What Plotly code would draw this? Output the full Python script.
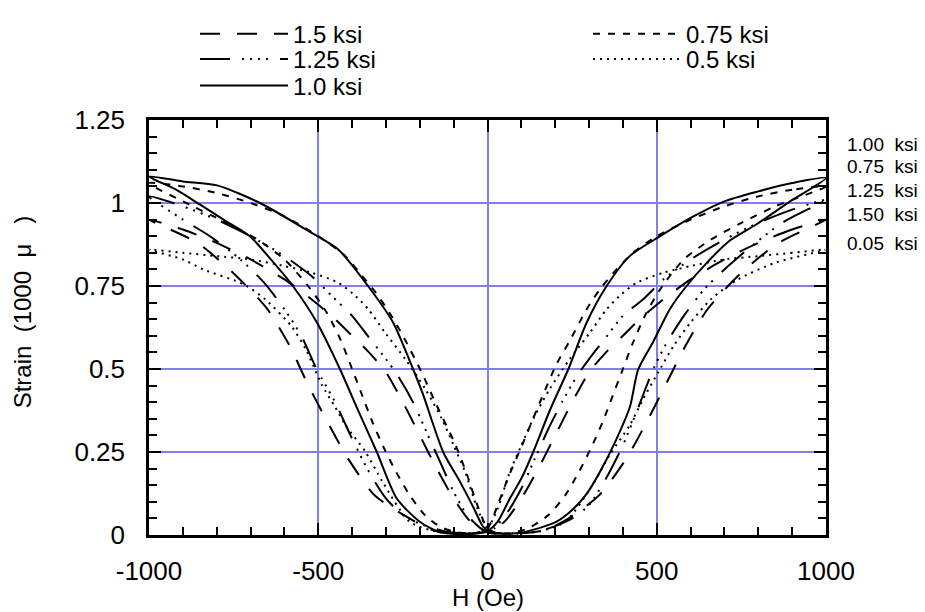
import plotly.graph_objects as go

# ---------------- data ----------------
# each loop: right descending branch (1000 -> 0), left outer (-> -1000),
# left inner (-1000 -> 0), right outer (-> 1000)
h_100 = [1000, 900, 800, 700, 600, 510, 420, 352, 293, 239, 184, 135, 100, 66, 30, 0,
         -40, -90, -140, -200, -268, -327, -380, -436, -504, -575, -640, -702, -780, -849, -920, -1000,
         -900, -799, -672, -533, -441, -353, -279, -220, -191, -131, -81, -40, -13, 10, 45,
         90, 150, 204, 250, 290, 332, 381, 421, 445, 490, 539, 588, 647, 716, 795, 894, 1000]
s_100 = [1.075, 1.06, 1.035, 1.005, 0.955, 0.90, 0.84, 0.75, 0.64, 0.50, 0.375, 0.25, 0.17, 0.11, 0.04, 0.012,
         0.004, 0.003, 0.008, 0.04, 0.11, 0.25, 0.37, 0.50, 0.64, 0.75, 0.83, 0.90, 0.95, 0.995, 1.04, 1.08,
         1.065, 1.053, 1.0, 0.918, 0.86, 0.75, 0.64, 0.50, 0.425, 0.25, 0.16, 0.08, 0.025, 0.008, 0.004,
         0.006, 0.02, 0.04, 0.075, 0.12, 0.19, 0.289, 0.387, 0.498, 0.583, 0.681, 0.75, 0.819, 0.887, 0.936, 1.005, 1.075]

h_075 = [1000, 900, 800, 700, 600, 500, 430, 381, 332, 293, 243, 204, 155, 106, 60, 30, 0,
         -40, -90, -140, -185, -230, -270, -305, -340, -370, -400, -435, -475, -530, -600, -680, -770, -870, -1000,
         -900, -800, -700, -600, -500, -420, -370, -330, -290, -250, -197, -150, -94, -60, -30, 0, 30,
         70, 120, 180, 230, 270, 305, 340, 370, 400, 430, 465, 510, 580, 660, 750, 850, 1000]
s_075 = [1.05, 1.04, 1.02, 0.99, 0.95, 0.90, 0.85, 0.80, 0.74, 0.68, 0.585, 0.515, 0.40, 0.28, 0.17, 0.09, 0.02,
         0.005, 0.008, 0.025, 0.06, 0.12, 0.19, 0.26, 0.34, 0.42, 0.50, 0.59, 0.67, 0.75, 0.83, 0.89, 0.94, 0.99, 1.06,
         1.05, 1.03, 1.0, 0.96, 0.90, 0.84, 0.78, 0.73, 0.67, 0.60, 0.495, 0.39, 0.27, 0.18, 0.09, 0.02, 0.005,
         0.006, 0.02, 0.06, 0.12, 0.19, 0.26, 0.34, 0.42, 0.50, 0.58, 0.66, 0.74, 0.83, 0.89, 0.94, 0.99, 1.05]

h_125 = [1000, 900, 800, 700, 600, 520, 460, 400, 350, 300, 265, 220, 180, 140, 100, 60, 20, 0,
         -40, -120, -190, -250, -300, -350, -400, -450, -505, -550, -600, -660, -730, -820, -900, -1000,
         -900, -800, -700, -600, -520, -460, -400, -350, -300, -265, -220, -180, -140, -100, -60, -20, 10,
         100, 180, 250, 300, 350, 400, 440, 490, 530, 580, 640, 700, 780, 870, 1000]
s_125 = [1.01, 0.98, 0.94, 0.89, 0.83, 0.77, 0.71, 0.66, 0.595, 0.53, 0.48, 0.40, 0.32, 0.23, 0.14, 0.07, 0.02, 0.012,
         0.005, 0.01, 0.03, 0.06, 0.11, 0.19, 0.29, 0.40, 0.50, 0.60, 0.68, 0.76, 0.83, 0.90, 0.95, 1.02,
         0.99, 0.95, 0.90, 0.84, 0.78, 0.72, 0.66, 0.595, 0.53, 0.48, 0.40, 0.31, 0.22, 0.13, 0.06, 0.02, 0.005,
         0.005, 0.02, 0.05, 0.09, 0.17, 0.27, 0.37, 0.50, 0.58, 0.66, 0.74, 0.80, 0.87, 0.94, 1.01]

h_150 = [1000, 900, 800, 700, 600, 520, 450, 400, 350, 300, 250, 200, 150, 100, 50, 0,
         -40, -80, -163, -237, -332, -412, -473, -532, -584, -653, -749, -857, -1000,
         -900, -800, -700, -600, -520, -450, -400, -350, -300, -250, -200, -150, -100, -50, 0, 40,
         100, 170, 240, 330, 410, 470, 530, 585, 650, 750, 860, 1000]
s_150 = [0.95, 0.92, 0.88, 0.83, 0.77, 0.71, 0.65, 0.60, 0.55, 0.49, 0.40, 0.30, 0.20, 0.11, 0.04, 0.01,
         0.005, 0.005, 0.015, 0.054, 0.118, 0.23, 0.341, 0.456, 0.569, 0.684, 0.787, 0.88, 0.95,
         0.92, 0.88, 0.83, 0.77, 0.71, 0.65, 0.60, 0.55, 0.49, 0.40, 0.30, 0.20, 0.11, 0.04, 0.01, 0.005,
         0.005, 0.015, 0.05, 0.12, 0.23, 0.34, 0.46, 0.57, 0.68, 0.79, 0.88, 0.95]

h_050 = [1000, 900, 800, 700, 600, 520, 441, 390, 352, 303, 243, 184, 135, 100, 66, 30, 0,
         -40, -100, -150, -230, -310, -360, -419, -450, -488, -515, -537, -580, -657, -720, -840, -900, -1000,
         -900, -800, -700, -600, -520, -441, -390, -352, -303, -243, -184, -135, -100, -66, -30, 0, 30,
         60, 150, 230, 310, 360, 420, 460, 510, 550, 600, 660, 740, 850, 1000]
s_050 = [0.86, 0.85, 0.84, 0.83, 0.81, 0.79, 0.76, 0.72, 0.68, 0.61, 0.53, 0.44, 0.35, 0.27, 0.19, 0.08, 0.02,
         0.005, 0.006, 0.01, 0.04, 0.16, 0.25, 0.33, 0.385, 0.45, 0.51, 0.56, 0.63, 0.71, 0.755, 0.80, 0.83, 0.86,
         0.85, 0.84, 0.83, 0.81, 0.79, 0.76, 0.72, 0.68, 0.61, 0.53, 0.44, 0.35, 0.27, 0.19, 0.08, 0.02, 0.005,
         0.005, 0.01, 0.04, 0.15, 0.24, 0.33, 0.41, 0.50, 0.57, 0.64, 0.71, 0.77, 0.82, 0.86]

x_tickvals = [-1000, -500, 0, 500, 1000]
x_ticktext = ["-1000", "-500", "0", "500", "1000"]
y_tickvals = [0, 0.25, 0.5, 0.75, 1.0, 1.25]
y_ticktext = ["0", "0.25", "0.5", "0.75", "1", "1.25"]

end_labels = ["1.00\u00a0 ksi", "0.75\u00a0 ksi", "1.25\u00a0 ksi", "1.50\u00a0 ksi", "0.05\u00a0 ksi"]
end_label_px = [135, 158, 182, 207, 236]

# ---------------- figure ----------------
FONT = "Liberation Sans, Arial, sans-serif"
W, H = 925, 612
L, R, T, B = 149, 99, 110, 77
PW, PH = W - L - R, H - T - B

# name, x, y, dash, legend id, legend left px, legend row centre px
series = [
    ("1.5 ksi", h_150, s_150, "20px,17px", "legend", 195, 22),
    ("1.25 ksi", h_125, s_125, "30px,12px,2px,6px,2px,6px,2px,6px,2px,12px", "legend2", 195, 48),
    ("1.0 ksi", h_100, s_100, "solid", "legend3", 195, 75),
    ("0.75 ksi", h_075, s_075, "7px,8px", "legend4", 588, 22),
    ("0.5 ksi", h_050, s_050, "2px,5px", "legend5", 588, 48),
]

fig = go.Figure()
for name, hx, sy, dash, lg, _, _ in series:
    fig.add_trace(go.Scatter(
        x=hx, y=sy, mode="lines", name=name, legend=lg,
        line=dict(color="black", width=2, dash=dash, shape="spline", smoothing=0.7),
    ))

axis_common = dict(
    showline=True, linecolor="black", linewidth=2.5, mirror="allticks",
    ticks="inside", ticklen=12, tickwidth=2, tickcolor="black",
    showgrid=True, gridcolor="rgb(128,128,230)", gridwidth=2,
    zeroline=False,
    tickfont=dict(family=FONT, size=26, color="black"),
)

fig.update_xaxes(range=[-1000, 1000], tickvals=x_tickvals, ticktext=x_ticktext,
                 minor=dict(dtick=100, ticks="inside", ticklen=8, tickwidth=2,
                            tickcolor="black", showgrid=False),
                 ticklabelstandoff=11, **axis_common)
fig.update_yaxes(range=[0, 1.25], tickvals=y_tickvals, ticktext=y_ticktext,
                 minor=dict(dtick=0.05, ticks="inside", ticklen=8, tickwidth=2,
                            tickcolor="black", showgrid=False),
                 ticklabelstandoff=16, **axis_common)

annotations = []
for txt, py in zip(end_labels, end_label_px):
    annotations.append(dict(
        text=txt, xref="paper", yref="paper",
        x=(845 - L) / PW, y=(H - B - py) / PH, xanchor="left", yanchor="middle",
        showarrow=False, font=dict(family=FONT, size=19, color="black")))
annotations.append(dict(
    text="H (Oe)", xref="paper", yref="paper", x=0.5, y=(H - B - 599) / PH,
    xanchor="center", yanchor="middle", showarrow=False,
    font=dict(family=FONT, size=24, color="black")))
annotations.append(dict(
    text="Strain\u00a0\u00a0(1000\u00a0\u00a0\u03bc\u00a0\u00a0\u00a0)", xref="paper", yref="paper",
    x=(22 - L) / PW, y=(H - B - 307) / PH, textangle=-90,
    xanchor="center", yanchor="middle", showarrow=False,
    font=dict(family=FONT, size=24, color="black")))

legend_common = dict(
    font=dict(family=FONT, size=24, color="black"),
    bgcolor="rgba(0,0,0,0)", borderwidth=0, itemwidth=88,
    xanchor="left", yanchor="middle", tracegroupgap=0,
    orientation="v", itemclick=False, itemdoubleclick=False,
)

legends = {}
for name, hx, sy, dash, lg, lx, ly in series:
    legends[lg] = dict(x=(lx - L) / PW, y=(H - B - ly) / PH, **legend_common)

fig.update_layout(
    width=W, height=H,
    margin=dict(l=L, r=R, t=T, b=B, pad=0),
    paper_bgcolor="white", plot_bgcolor="white",
    showlegend=True,
    annotations=annotations,
    **legends,
)

fig.write_html("out.html")
